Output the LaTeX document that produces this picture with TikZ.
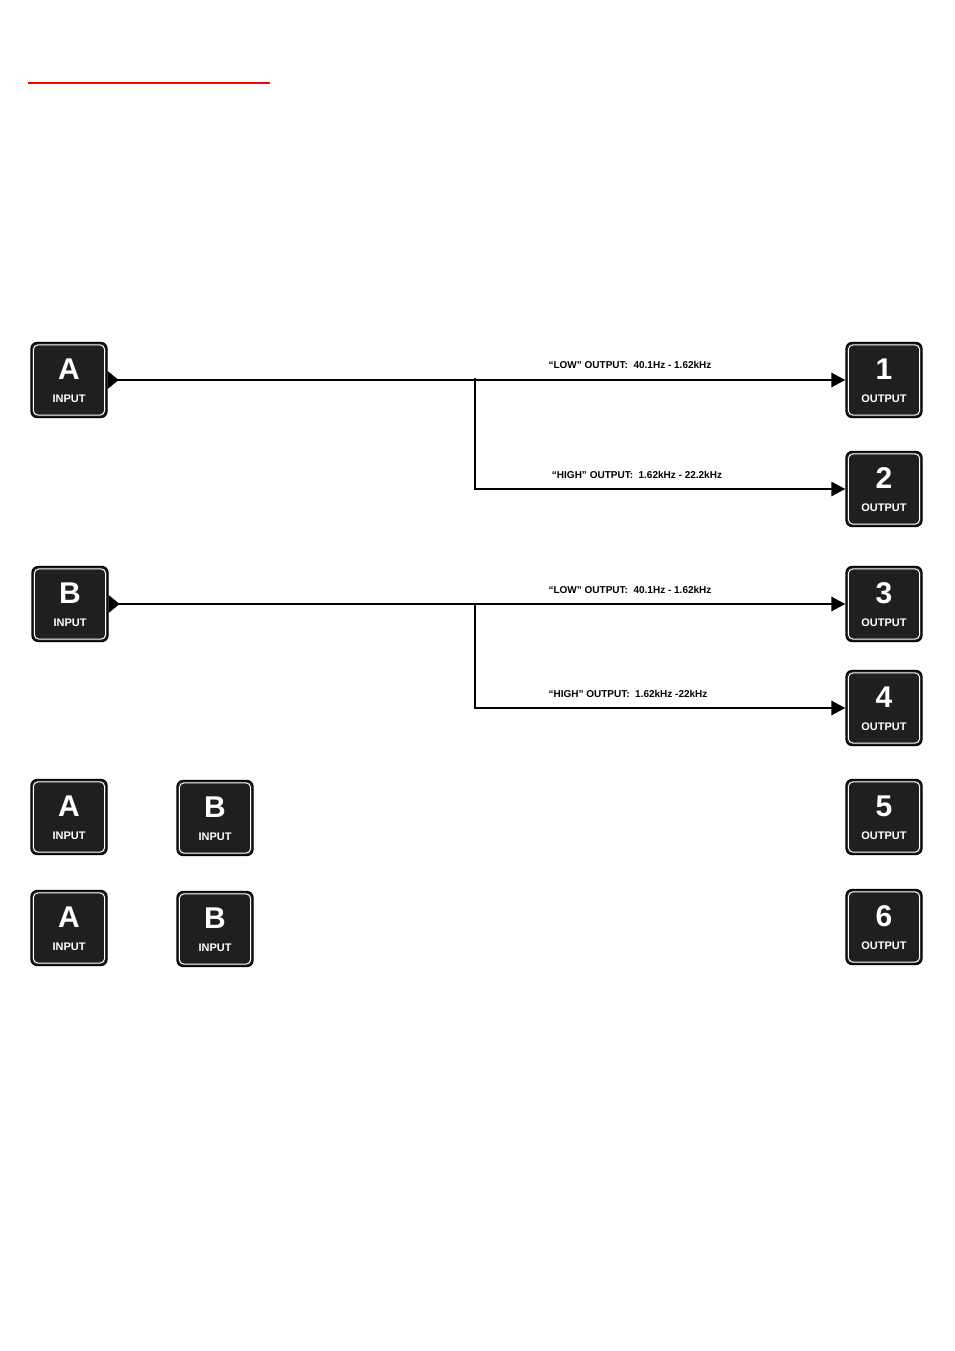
\documentclass[tikz,border=0pt]{standalone}
\usepackage{fontspec}
\setmainfont{Liberation Sans}
\usetikzlibrary{arrows.meta}
\begin{document}
\begin{tikzpicture}[x=1pt,y=-1pt,
  box/.style={draw=black,line width=1.2pt,fill=black!88,rounded corners=6pt,minimum width=76pt,minimum height=75pt,inner sep=0pt,
    append after command={\pgfextra{}}},
  inner/.style={draw=white,line width=1pt,rounded corners=4.5pt},
  sig/.style={line width=2.6pt,-{Triangle[length=14pt,width=14pt]}},
  lab/.style={font=\bfseries\fontsize{10}{12}\selectfont,anchor=south}]
\useasboundingbox (0,0) rectangle (954,1351);
\draw[red,line width=1.2pt] (28,83) -- (270,83);
\newcommand{\mybox}[4]{%
  \node[box] (#1) at (#2) {};
  \draw[inner] ([shift={(3,-3)}]#1.south west) rectangle ([shift={(-3,3)}]#1.north east);
  \node[white,font=\bfseries\fontsize{11}{12}\selectfont] at ([yshift=-19]#1.center) {#3};
  \node[white,font=\bfseries\fontsize{30}{30}\selectfont] at ([yshift=11]#1.center) {#4};
}
\mybox{ia}{69,380}{INPUT}{A}
\mybox{oa}{884,380}{OUTPUT}{1}
\mybox{ob}{884,489}{OUTPUT}{2}
\mybox{ib}{70,604}{INPUT}{B}
\mybox{oc}{884,604}{OUTPUT}{3}
\mybox{od}{884,708}{OUTPUT}{4}
\mybox{ia3}{69,817}{INPUT}{A}
\mybox{ib3}{215,818}{INPUT}{B}
\mybox{oe}{884,817}{OUTPUT}{5}
\mybox{ia4}{69,928}{INPUT}{A}
\mybox{ib4}{215,929}{INPUT}{B}
\mybox{of}{884,927}{OUTPUT}{6}
\foreach \n in {ia,ib}{\fill ([yshift=-9]\n.east) -- ([xshift=11]\n.east) -- ([yshift=9]\n.east) -- cycle;}
\coordinate (j1) at (475,378);
\coordinate (j2) at (475,604);
\draw[sig] (ia.east) -- (oa.west);
\draw[sig] (j1) |- (ob.west);
\draw[sig] (ib.east) -- (oc.west);
\draw[sig] (j2) |- (od.west);
\node[lab] at (630,372) {“LOW” OUTPUT:\ \ 40.1Hz - 1.62kHz};
\node[lab] at (637,482) {“HIGH” OUTPUT:\ \ 1.62kHz - 22.2kHz};
\node[lab] at (630,597) {“LOW” OUTPUT:\ \ 40.1Hz - 1.62kHz};
\node[lab] at (628,701) {“HIGH” OUTPUT:\ \ 1.62kHz -22kHz};
\end{tikzpicture}
\end{document}
